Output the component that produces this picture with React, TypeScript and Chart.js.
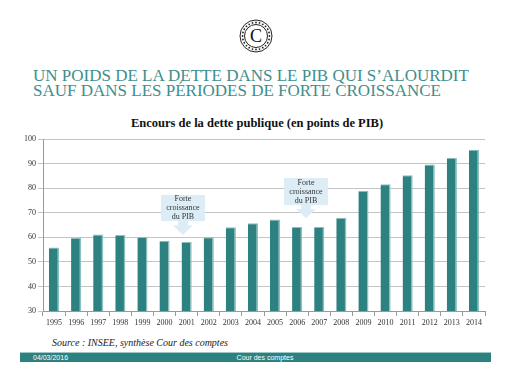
import React, { useEffect, useRef } from "react";
import { Chart, registerables } from "chart.js";

Chart.register(...registerables);

const years = ["1995","1996","1997","1998","1999","2000","2001","2002","2003","2004","2005","2006","2007","2008","2009","2010","2011","2012","2013","2014"];
const debtRatio = [55.8, 59.7, 61.1, 60.9, 60.1, 58.6, 58.1, 60.0, 64.1, 65.7, 67.2, 64.2, 64.2, 67.9, 78.9, 81.6, 85.2, 89.6, 92.3, 95.6];
const yTicks = [30, 40, 50, 60, 70, 80, 90, 100];

const calloutLines = ["Forte", "croissance", "du PIB"];
const calloutIndex = [5.83, 11.4];
const calloutTop = [77.2, 84.1];
const calloutBottom = [66.6, 73.1];
const calloutTip = [60.9, 67.8];

const TEAL = "#2e8181";
const SERIF = "'Liberation Serif', 'Times New Roman', serif";

const calloutPlugin = {
  id: "callouts",
  afterDatasetsDraw(chart: any) {
    const ctx = chart.ctx;
    const xs = chart.scales.x;
    const ys = chart.scales.y;
    ctx.save();
    for (let i = 0; i < calloutIndex.length; i++) {
      const cx = xs.getPixelForValue(calloutIndex[i]);
      const top = ys.getPixelForValue(calloutTop[i]);
      const bottom = ys.getPixelForValue(calloutBottom[i]);
      const tip = ys.getPixelForValue(calloutTip[i]);
      const w = 44;
      ctx.fillStyle = "#dcedf5";
      ctx.fillRect(cx - w / 2, top, w, bottom - top);
      const shaftH = (tip - bottom) * 0.3;
      ctx.beginPath();
      ctx.moveTo(cx - 5, bottom);
      ctx.lineTo(cx + 5, bottom);
      ctx.lineTo(cx + 5, bottom + shaftH);
      ctx.lineTo(cx + 10, bottom + shaftH);
      ctx.lineTo(cx, tip);
      ctx.lineTo(cx - 10, bottom + shaftH);
      ctx.lineTo(cx - 5, bottom + shaftH);
      ctx.closePath();
      ctx.fill();
      ctx.fillStyle = "#333";
      ctx.font = `8px ${SERIF}`;
      ctx.textAlign = "center";
      ctx.textBaseline = "middle";
      const h = bottom - top;
      calloutLines.forEach((t, k) => {
        ctx.fillText(t, cx, top + h * (k + 0.5) / calloutLines.length);
      });
    }
    ctx.restore();
  },
};

function ChartBox() {
  const ref = useRef<HTMLCanvasElement>(null);
  useEffect(() => {
    if (!ref.current) return;
    const chart = new Chart(ref.current, {
      type: "bar",
      data: {
        labels: years,
        datasets: [
          {
            data: debtRatio,
            backgroundColor: TEAL,
            borderColor: "#8cc0c0",
            borderWidth: { top: 1, right: 1.5, left: 0, bottom: 0 } as any,
            borderSkipped: false,
            barPercentage: 0.46,
            categoryPercentage: 1,
          },
        ],
      },
      options: {
        animation: false,
        responsive: false,
        maintainAspectRatio: false,
        layout: { padding: { left: 0, right: 26, top: 9, bottom: 4 } },
        plugins: { legend: { display: false }, tooltip: { enabled: false } },
        scales: {
          x: {
            grid: { offset: true, drawOnChartArea: false, tickLength: 5, color: "#999" },
            border: { color: "#999" },
            ticks: { font: { family: SERIF, size: 8 }, color: "#333", maxRotation: 0, autoSkip: false, padding: 2 },
            afterFit: (s: any) => { s.height = 20; },
          },
          y: {
            min: 30,
            max: 100,
            afterBuildTicks: (s: any) => { s.ticks = yTicks.map((v) => ({ value: v })); },
            grid: { color: "#c4c4c4", tickLength: 5, lineWidth: 1 },
            border: { color: "#999" },
            ticks: { font: { family: SERIF, size: 8 }, color: "#333", padding: 2 },
            afterFit: (s: any) => { s.width = 43; },
          },
        },
      },
      plugins: [calloutPlugin],
    });
    return () => chart.destroy();
  }, []);
  return <canvas ref={ref} width={511} height={205} style={{ position: "absolute", left: 0, top: 130, width: 511, height: 205 }} />;
}

function Logo() {
  const dots = [];
  for (let i = 0; i < 24; i++) {
    const a = (i / 24) * Math.PI * 2;
    dots.push(<circle key={i} cx={17 + 13.5 * Math.cos(a)} cy={17 + 13.5 * Math.sin(a)} r={0.9} fill="#222" />);
  }
  return (
    <svg width={34} height={34} style={{ position: "absolute", left: 239, top: 19 }}>
      <circle cx={17} cy={17} r={16} fill="none" stroke="#222" strokeWidth={1} />
      {dots}
      <circle cx={17} cy={17} r={11.5} fill="none" stroke="#222" strokeWidth={1} />
      <text x={17} y={23} textAnchor="middle" fontFamily={SERIF} fontSize={18} fill="#111">C</text>
    </svg>
  );
}

export default function App() {
  return (
    <div style={{ position: "absolute", left: 0, top: 0, width: 511, height: 382, background: "#fff", overflow: "hidden" }}>
      <Logo />
      <div style={{ position: "absolute", left: 33, top: 68, fontFamily: SERIF, fontSize: 17, lineHeight: "15px", color: "#3d8e8e", whiteSpace: "nowrap" }}>
        UN POIDS DE LA DETTE DANS LE PIB QUI S’ALOURDIT<br />SAUF DANS LES PÉRIODES DE FORTE CROISSANCE
      </div>
      <div style={{ position: "absolute", left: 0, width: 514, top: 116, textAlign: "center", fontFamily: SERIF, fontWeight: "bold", fontSize: 12.5, color: "#111", whiteSpace: "nowrap" }}>
        Encours de la dette publique (en points de PIB)
      </div>
      <ChartBox />
      <div style={{ position: "absolute", left: 52, top: 337, fontFamily: SERIF, fontStyle: "italic", fontSize: 10, color: "#222", whiteSpace: "nowrap" }}>
        Source : INSEE, synthèse Cour des comptes
      </div>
      <div style={{ position: "absolute", left: 20, top: 352, width: 471, height: 10, background: TEAL, borderTop: "1px solid #9cc8c8", boxSizing: "border-box" }}>
        <span style={{ position: "absolute", left: 13, top: 0, fontFamily: "'Liberation Sans', Arial, sans-serif", fontSize: 7, lineHeight: "9px", color: "#fff" }}>04/03/2016</span>
        <span style={{ position: "absolute", left: 0, width: 490, top: 0, textAlign: "center", fontFamily: "'Liberation Sans', Arial, sans-serif", fontSize: 7, lineHeight: "9px", color: "#fff" }}>Cour des comptes</span>
      </div>
    </div>
  );
}
